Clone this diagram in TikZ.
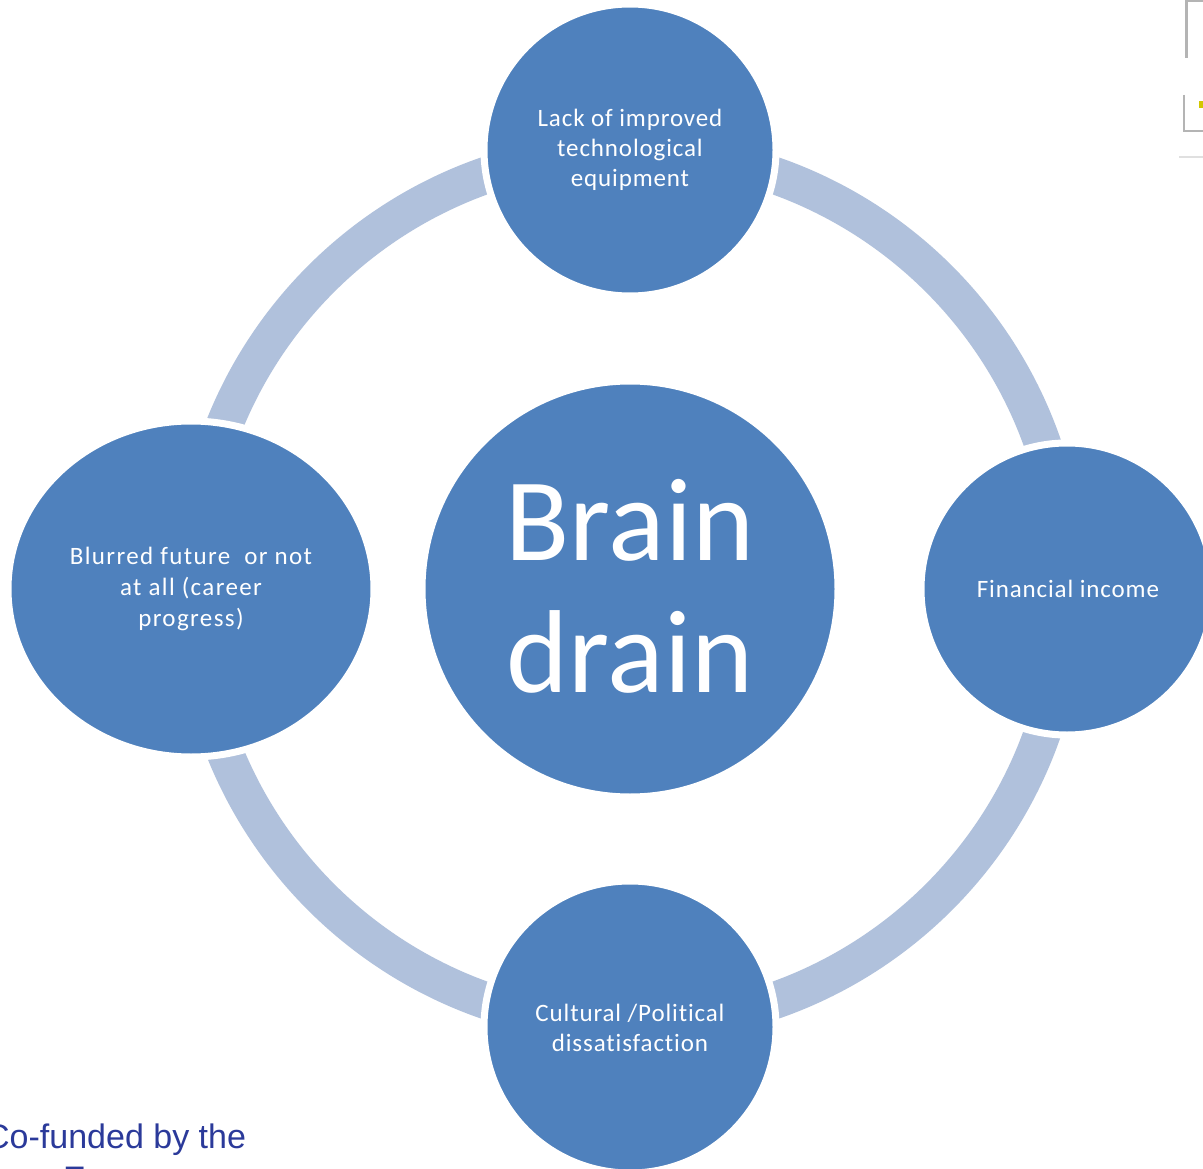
\documentclass[tikz,border=0pt]{standalone}
\usepackage{fontspec}
\usetikzlibrary{shapes.geometric}
\setmainfont[Ligatures=NoCommon]{Carlito}
\newfontfamily\spacedfont[Ligatures=NoCommon,LetterSpace=3.5]{Carlito}
\newfontfamily\widefont[Ligatures=NoCommon,LetterSpace=5.5]{Carlito}
\newfontfamily\arialfont{Liberation Sans}
\definecolor{bubble}{HTML}{4F81BD}
\definecolor{ringc}{HTML}{B0C1DC}
\definecolor{eublue}{HTML}{2B3A9A}
\definecolor{guigray}{HTML}{B4B4B4}
\begin{document}
\begin{tikzpicture}[x=1pt,y=-1pt,
  bubblestyle/.style={fill=bubble,draw=white,line width=7pt,text=white,align=center,inner sep=0pt},
  smalltext/.style={font=\spacedfont\fontsize{25}{30}\selectfont},
  widetext/.style={font=\widefont\fontsize{25}{31}\selectfont},
  bigtext/.style={font=\fontsize{118}{132}\selectfont},
  footertext/.style={anchor=base west,inner sep=0pt,text=eublue,font=\arialfont\fontsize{34}{40}\selectfont}]
\useasboundingbox (0,0) rectangle (1203,1169);
\clip (0,0) rectangle (1203,1169);
\fill[white] (0,0) rectangle (1203,1169);
% ring
\draw[ringc,line width=37pt] (630,588) circle[radius=437];
% bubbles
\node[bubblestyle,circle,minimum size=292pt] (top) at (630,150) {};
\node[bubblestyle,circle,minimum size=292pt] (right) at (1067,589) {};
\node[bubblestyle,circle,minimum size=292pt] (bottom) at (630,1027) {};
\node[bubblestyle,ellipse,minimum width=366pt,minimum height=336pt] (left) at (191,589) {};
\node[bubblestyle,circle,minimum size=416pt] (center) at (630,589) {};
% texts
\node[text=white,align=center,smalltext] (toptext) at (630,150) {Lack of improved\\technological\\equipment};
\node[text=white,align=center,smalltext] (righttext) at (1068,589) {Financial income};
\node[text=white,align=center,smalltext] (bottomtext) at (630,1028) {Cultural /Political\\dissatisfaction};
\node[text=white,align=center,widetext] (lefttext) at (191,589) {Blurred future\ \ or not\\at all (career\\progress)};
\node[text=white,align=center,bigtext] (centertext) at (630,586) {Brain\\drain};
% footer text (clipped logo box)
\begin{scope}
\clip (0,1090) rectangle (270,1169);
\node[footertext] (cofund) at (-15,1148) {Co-funded by the};
\node[footertext] (eu) at (63,1190) {European};
\end{scope}
% window artefacts top right
\draw[guigray,line width=3pt] (1186,58) -- (1186,1) -- (1203,1);
\draw[guigray,line width=2.5pt] (1184,95) -- (1184,131) -- (1203,131);
\draw[black!12,line width=2pt] (1179,157) -- (1203,157);
\fill[yellow!60!olive] (1199,101) rectangle (1203,108);
\end{tikzpicture}
\end{document}
